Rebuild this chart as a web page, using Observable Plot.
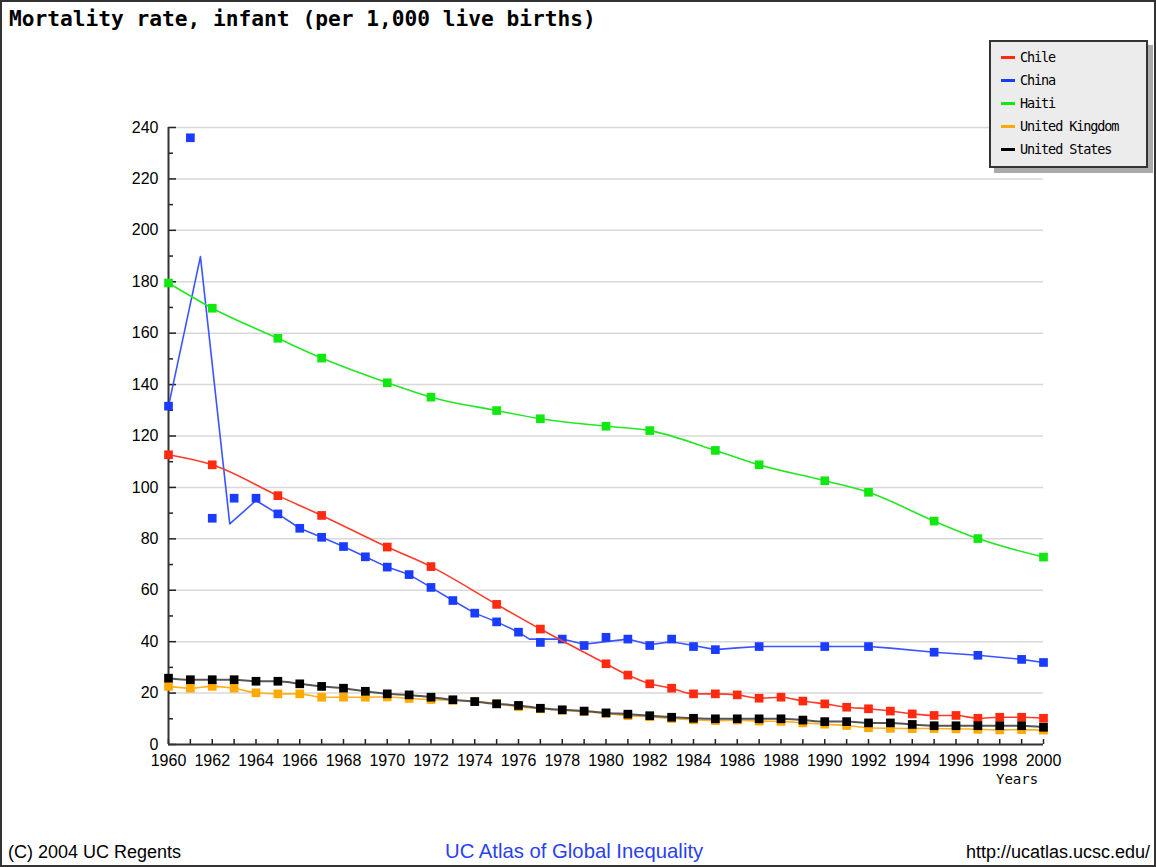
<!DOCTYPE html>
<html>
<head>
<meta charset="utf-8">
<script src="https://cdn.jsdelivr.net/npm/d3@7"></script>
<script src="https://cdn.jsdelivr.net/npm/@observablehq/plot@0.6"></script>
<style>
  html, body { margin: 0; padding: 0; background: #fff; }
  #page { position: relative; width: 1156px; height: 867px; overflow: hidden; background: #fff; }
  #border { position: absolute; left: 0; top: 0; width: 1156px; height: 867px; box-sizing: border-box; border: 2px solid #333; pointer-events: none; }
  #title { position: absolute; left: 9px; top: 6px; font-family: "DejaVu Sans Mono", monospace; font-weight: bold; font-size: 21.2px; line-height: 26px; color: #000; white-space: nowrap; }
  #chart { position: absolute; left: 0; top: 0; }
  #legend { position: absolute; left: 989px; top: 40px; width: 159px; height: 128px; box-sizing: border-box; background: #ececec; border: 2px solid #333; box-shadow: 5px 5px 0 #aaa; }
  .item { position: absolute; left: 10px; height: 20px; font-family: "DejaVu Sans Mono", monospace; font-size: 13.5px; letter-spacing: -1.1px; line-height: 20px; color: #000; white-space: nowrap; }
  .sw { display: inline-block; width: 14px; height: 3px; vertical-align: middle; margin-right: 5px; position: relative; top: -1px; }
  #years { position: absolute; left: 996px; top: 771px; font-family: "DejaVu Sans Mono", monospace; font-size: 14px; color: #000; }
  .foot { position: absolute; top: 841px; font-family: "Liberation Sans", Arial, sans-serif; font-size: 18px; line-height: 22px; white-space: nowrap; }
</style>
</head>
<body>
<div id="page">
  <div id="chart"></div>
  <div id="title">Mortality rate, infant (per 1,000 live births)</div>
  <div id="legend"></div>
  <div id="years">Years</div>
  <div class="foot" id="f1" style="left:8px;color:#000;">(C) 2004 UC Regents</div>
  <div class="foot" id="f2" style="left:445px;color:#2a3ff0;font-size:20.3px;top:840px;">UC Atlas of Global Inequality</div>
  <div class="foot" id="f3" style="right:6px;color:#000;">http://ucatlas.ucsc.edu/</div>
  <div id="border"></div>
</div>
<script>
// ---------- data ----------
const seriesNames = ["Chile", "China", "Haiti", "United Kingdom", "United States"];
const seriesColors = ["#ff2a10", "#1a3cff", "#11e811", "#ffaa00", "#000000"];

const chileYears = [1960,1962,1965,1967,1970,1972,1975,1977,1980,1981,1982,1983,1984,1985,1986,1987,1988,1989,1990,1991,1992,1993,1994,1995,1996,1997,1998,1999,2000];
const chileValues = [112.7,108.8,96.8,89.1,76.8,69.2,54.5,44.9,31.4,27.0,23.6,21.9,19.7,19.7,19.3,18.0,18.4,16.9,15.8,14.5,13.9,13.0,11.9,11.3,11.3,10.2,10.6,10.6,10.2];

const chinaYears = [1960,1961,1962,1963,1964,1965,1966,1967,1968,1969,1970,1971,1972,1973,1974,1975,1976,1977,1978,1979,1980,1981,1982,1983,1984,1985,1987,1990,1992,1995,1997,1999,2000];
const chinaValues = [131.6,236.0,88.0,95.8,95.8,89.7,84.1,80.6,77.0,73.0,69.0,66.1,61.1,56.0,51.1,47.7,43.7,39.7,41.0,38.5,41.7,41.0,38.5,41.0,38.1,36.9,38.1,38.1,38.1,35.9,34.7,33.1,31.9];
// China's drawn line
const chinaLineYears = [1960,1961.46,1962.8,1964,1965,1966,1967,1968,1969,1970,1971,1972,1973,1974,1975,1976,1976.5,1977,1978,1979,1980,1981,1982,1983,1984,1985,1986,1987,1990,1992,1993,1995,1997,1999,2000];
const chinaLineValues = [131.6,189.8,85.8,94.9,89.7,84.1,80.6,77.0,73.0,69.0,66.1,61.1,56.0,51.1,47.7,43.7,41.0,41.0,41.0,39.0,40.0,41.0,38.8,40.0,38.5,36.9,37.6,38.1,38.1,38.1,37.5,35.9,34.7,33.1,31.9];

const haitiYears = [1960,1962,1965,1967,1970,1972,1975,1977,1980,1982,1985,1987,1990,1992,1995,1997,2000];
const haitiValues = [179.5,169.7,158.0,150.3,140.7,135.1,129.9,126.7,123.8,122.1,114.4,108.8,102.6,98.1,86.9,80.1,72.9];

const allYears = [1960,1961,1962,1963,1964,1965,1966,1967,1968,1969,1970,1971,1972,1973,1974,1975,1976,1977,1978,1979,1980,1981,1982,1983,1984,1985,1986,1987,1988,1989,1990,1991,1992,1993,1994,1995,1996,1997,1998,1999,2000];
const ukValues = [22.6,21.9,22.6,21.9,20.1,19.7,19.7,18.4,18.4,18.4,18.5,17.9,17.5,17.2,16.8,15.9,14.7,13.9,13.3,12.8,12.1,11.2,10.8,10.1,9.6,9.3,9.5,9.1,9.0,8.4,7.9,7.4,6.5,6.3,6.2,6.2,6.1,5.9,5.7,5.8,5.6];
const usValues = [25.8,25.2,25.2,25.2,24.6,24.6,23.6,22.6,21.9,20.7,19.7,19.3,18.4,17.4,16.7,15.8,15.2,14.1,13.5,13.0,12.3,11.8,11.2,10.6,10.2,10.0,10.0,10.0,10.0,9.5,8.9,8.9,8.4,8.4,7.8,7.3,7.3,7.3,7.3,7.3,6.7];

const yMajorTicks = [0,20,40,60,80,100,120,140,160,180,200,220,240];
const yMinorTicks = [10,30,50,70,90,110,130,150,170,190,210,230];
const xLabelTicks = [1960,1962,1964,1966,1968,1970,1972,1974,1976,1978,1980,1982,1984,1986,1988,1990,1992,1994,1996,1998,2000];

// ---------- build tables ----------
const zip = (xs, ys) => xs.map((x, i) => ({year: x, value: ys[i]}));
const chile = zip(chileYears, chileValues);
const china = zip(chinaYears, chinaValues);
const chinaLine = zip(chinaLineYears, chinaLineValues);
const haiti = zip(haitiYears, haitiValues);
const uk = zip(allYears, ukValues);
const us = zip(allYears, usValues);

const markR = 4.9;
const chart = Plot.plot({
  width: 1156,
  height: 867,
  marginLeft: 168,
  marginRight: 113,
  marginTop: 127,
  marginBottom: 123,
  style: {fontFamily: "Liberation Sans, Arial, sans-serif", fontSize: "16px", background: "transparent", color: "#000"},
  x: {domain: [1960, 2000]},
  y: {domain: [0, 240]},
  marks: [
    Plot.gridY(yMajorTicks.filter(d => d > 0), {stroke: "#d8d8d8", strokeOpacity: 1, strokeWidth: 1.5}),
    // y axis labels and ticks (ticks point inwards)
    Plot.axisY({ticks: yMajorTicks, tickSize: 0, tickPadding: 10, label: null, tickFormat: d => String(d)}),
    Plot.axisY({ticks: yMajorTicks, tickSize: 8, dx: 8, text: null, label: null, stroke: "#222", strokeWidth: 1.5}),
    Plot.axisY({ticks: yMinorTicks, tickSize: 5, dx: 5, text: null, label: null, stroke: "#222", strokeWidth: 1.5}),
    // x axis labels and upward ticks
    Plot.axisX({ticks: xLabelTicks, tickSize: 0, tickPadding: 10, label: null, tickFormat: d => String(d)}),
    Plot.axisX({ticks: allYears, tickSize: 5, dy: -5, text: null, label: null, stroke: "#222", strokeWidth: 1.5}),
    Plot.ruleX([1960], {y1: 0, y2: 240, stroke: "#333", strokeWidth: 2}),
    Plot.ruleY([0], {x1: 1960, x2: 2000, stroke: "#333", strokeWidth: 2}),
    // China
    Plot.line(chinaLine, {x: "year", y: "value", stroke: "#3a55ff", strokeWidth: 1.6}),
    Plot.dot(china, {x: "year", y: "value", symbol: "square", r: markR, fill: seriesColors[1]}),
    // Haiti
    Plot.line(haiti, {x: "year", y: "value", stroke: "#22e822", strokeWidth: 1.6, curve: "monotone-x"}),
    Plot.dot(haiti, {x: "year", y: "value", symbol: "square", r: markR, fill: seriesColors[2]}),
    // Chile
    Plot.line(chile, {x: "year", y: "value", stroke: "#ff3b2a", strokeWidth: 1.6, curve: "monotone-x"}),
    Plot.dot(chile, {x: "year", y: "value", symbol: "square", r: markR, fill: seriesColors[0]}),
    // United Kingdom
    Plot.line(uk, {x: "year", y: "value", stroke: "#ffb020", strokeWidth: 1.6, curve: "monotone-x"}),
    Plot.dot(uk, {x: "year", y: "value", symbol: "square", r: markR, fill: seriesColors[3]}),
    // United States
    Plot.line(us, {x: "year", y: "value", stroke: "#555", strokeWidth: 2, curve: "monotone-x"}),
    Plot.dot(us, {x: "year", y: "value", symbol: "square", r: markR, fill: seriesColors[4]})
  ]
});
document.getElementById("chart").appendChild(chart);

// ---------- legend ----------
const legend = document.getElementById("legend");
seriesNames.forEach((name, i) => {
  const it = document.createElement("div");
  it.className = "item";
  it.style.top = (5 + i * 23) + "px";
  const sw = document.createElement("span");
  sw.className = "sw";
  sw.style.background = seriesColors[i];
  it.appendChild(sw);
  it.appendChild(document.createTextNode(name));
  legend.appendChild(it);
});
</script>
</body>
</html>
